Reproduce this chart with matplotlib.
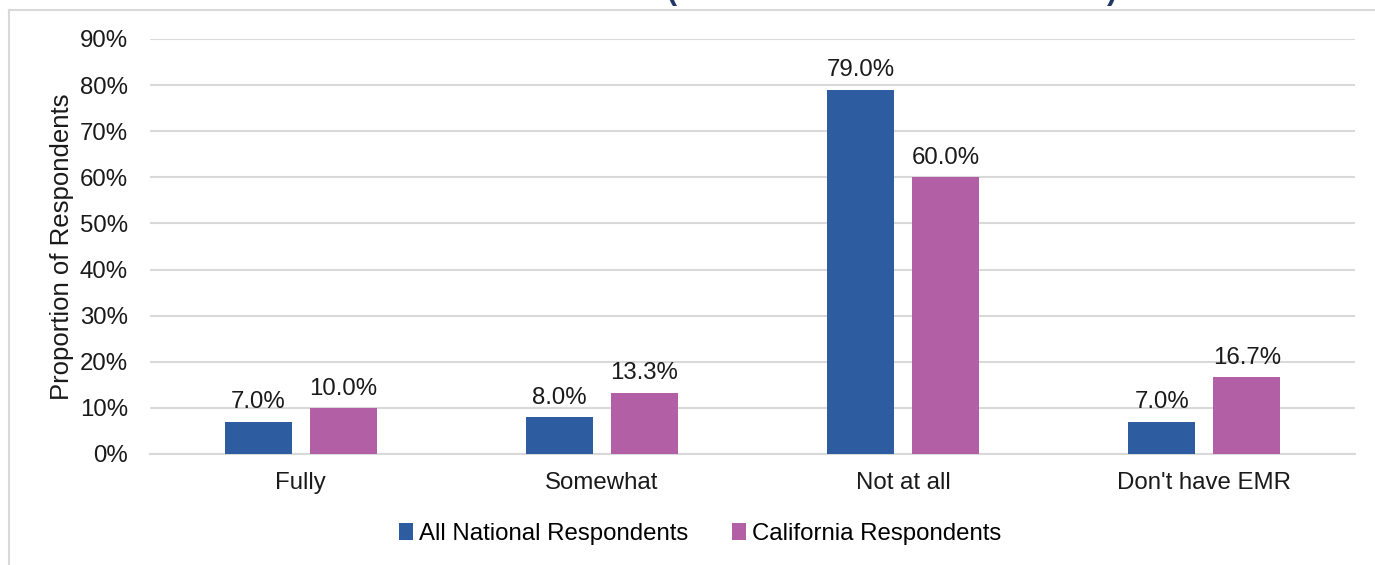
import matplotlib
matplotlib.use("Agg")
import matplotlib.pyplot as plt
from matplotlib.lines import Line2D
import numpy as np

plt.rcParams['font.family'] = ['Liberation Sans', 'DejaVu Sans']

categories = ["Fully", "Somewhat", "Not at all", "Don't have EMR"]
series_names = ["All National Respondents", "California Respondents"]
national = [7.0, 8.0, 79.0, 7.0]
california = [10.0, 13.3, 60.0, 16.7]
yticks = [0, 10, 20, 30, 40, 50, 60, 70, 80, 90]

blue = "#2E5CA0"
pink = "#B25FA5"
grid_c = "#D9D9D9"
txt_c = "#1a1a1a"
fs = 17.3

W, H = 1375, 565
fig = plt.figure(figsize=(W / 100, H / 100), dpi=100)
ax = fig.add_axes([150 / W, 1 - 454 / H, 1205 / W, 415 / H])

x = np.arange(len(categories))
bw = 0.223
off = 0.141
b1 = ax.bar(x - off, national, bw, color=blue, label=series_names[0], zorder=3)
b2 = ax.bar(x + off, california, bw, color=pink, label=series_names[1], zorder=3)

for bars, vals in ((b1, national), (b2, california)):
    for r, v in zip(bars, vals):
        ax.annotate(f"{v:.1f}%", (r.get_x() + r.get_width() / 2, v),
                    xytext=(0, 6), textcoords="offset points",
                    ha="center", va="bottom", fontsize=fs, color=txt_c)

ax.set_xlim(-0.5, len(categories) - 0.5)
ax.set_ylim(0, 90)
ax.set_yticks(yticks)
ax.set_yticklabels([f"{t}%" for t in yticks], fontsize=fs, color=txt_c)
ax.set_xticks(x)
ax.set_xticklabels(categories, fontsize=fs, color=txt_c)
ax.tick_params(axis="both", length=0)
ax.tick_params(axis="y", pad=16)
ax.tick_params(axis="x", pad=13)
ax.yaxis.grid(True, color=grid_c, linewidth=1.5, zorder=0)
ax.set_axisbelow(True)
for s in ["top", "right", "left"]:
    ax.spines[s].set_visible(False)
ax.spines["bottom"].set_color(grid_c)
ax.spines["bottom"].set_linewidth(1.5)
ax.set_ylabel("Proportion of Respondents", fontsize=18.5, color=txt_c, labelpad=4)

leg = fig.legend(handles=[b1, b2], labels=series_names, loc="center",
                 bbox_to_anchor=(700 / W, 1 - 534 / H), ncol=2, frameon=False,
                 fontsize=fs, handlelength=0.6, handleheight=0.7,
                 handletextpad=0.25, columnspacing=1.8)

# outer chart frame (partially cropped)
fig.add_artist(Line2D([9 / W, 1], [1 - 10 / H, 1 - 10 / H], color=grid_c, lw=1.5))
fig.add_artist(Line2D([9 / W, 9 / W], [0, 1 - 10 / H], color=grid_c, lw=1.5))

# cropped title remnants (only the bottoms of the parentheses are in view)
fig.text(672 / W, 1 + 1.5 / H, "(", fontsize=22, fontweight="bold", color="#1F3864",
         ha="center", va="baseline")
fig.text(1112 / W, 1 + 1.5 / H, ")", fontsize=22, fontweight="bold", color="#1F3864",
         ha="center", va="baseline")

fig.savefig("out.png", dpi=100)
